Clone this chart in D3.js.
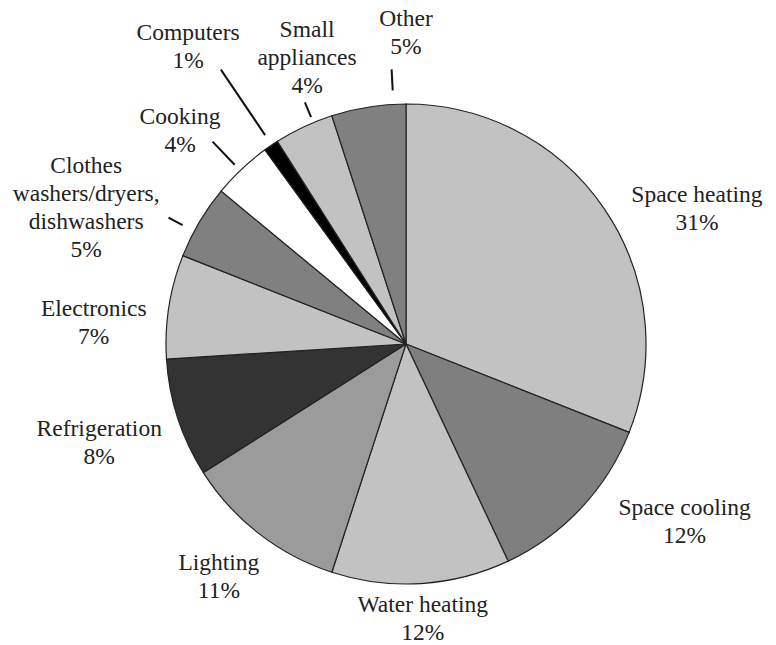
<!DOCTYPE html>
<html>
<head>
<meta charset="utf-8">
<script src="https://cdn.jsdelivr.net/npm/d3@7"></script>
<style>
  body { margin: 0; background: #fff; }
</style>
</head>
<body>
<div id="chart"></div>
<script>
// end-use shares, clockwise from 12 o'clock
var categories = ["Space heating", "Space cooling", "Water heating", "Lighting",
  "Refrigeration", "Electronics", "Clothes washers/dryers, dishwashers",
  "Cooking", "Computers", "Small appliances", "Other"];
var shares = [31, 12, 12, 11, 8, 7, 5, 4, 1, 4, 5];
var labelLines = [["Space heating"], ["Space cooling"], ["Water heating"], ["Lighting"],
  ["Refrigeration"], ["Electronics"], ["Clothes", "washers/dryers,", "dishwashers"],
  ["Cooking"], ["Computers"], ["Small", "appliances"], ["Other"]];
var fills = ["#c2c2c2", "#7f7f7f", "#c2c2c2", "#9b9b9b", "#333333", "#c2c2c2",
  "#808080", "#ffffff", "#000000", "#c2c2c2", "#808080"];

// label placement: [radius, angle in degrees from top]
var labelPos = [[321, 65], [330, 122.4], [275, 176.5], [298, 218.9], [322, 252.3],
  [313, 274], [348, 293.2], [311, 313.4], [369, 323.8], [304, 341], [312, 360]];
// leader lines: [angle, inner r, outer r] or null
var leaders = [null, null, null, null, null, null, [298, 253, 269], [316.3, 248, 280],
  [326, 252, 331], [337.3, 246, 262], [357, 254, 275]];

var width = 776, height = 645,
    cx = 406, cy = 344, radius = 240, lineH = 28;

var svg = d3.select("#chart").append("svg")
    .attr("width", width)
    .attr("height", height);

var g = svg.append("g")
    .attr("transform", "translate(" + cx + "," + cy + ")");

var pie = d3.pie().sort(null).value(function(d) { return d; });
var arc = d3.arc().innerRadius(0).outerRadius(radius);
var arcs = pie(shares);

g.selectAll("path.slice")
    .data(arcs)
  .enter().append("path")
    .attr("class", "slice")
    .attr("d", arc)
    .style("fill", function(d, i) { return fills[i]; })
    .style("stroke", "#222")
    .style("stroke-width", 1.2);

var rad = function(deg) { return deg * Math.PI / 180; };

leaders.forEach(function(l) {
  if (!l) return;
  var a = rad(l[0]);
  g.append("line")
    .attr("x1", Math.sin(a) * l[1]).attr("y1", -Math.cos(a) * l[1])
    .attr("x2", Math.sin(a) * l[2]).attr("y2", -Math.cos(a) * l[2])
    .style("stroke", "#111")
    .style("stroke-width", 2);
});

arcs.forEach(function(d, i) {
  var lines = labelLines[i].concat([shares[i] + "%"]);
  var a = rad(labelPos[i][1]), r = labelPos[i][0];
  var x = Math.sin(a) * r, y = -Math.cos(a) * r;
  var y0 = y - (lines.length - 1) * lineH / 2 + 8;
  var t = g.append("text")
    .attr("text-anchor", "middle")
    .attr("font-family", "'Liberation Serif'")
    .attr("font-size", 23.5)
    .attr("fill", "#222");
  lines.forEach(function(s, k) {
    t.append("tspan").attr("x", x).attr("y", y0 + k * lineH).text(s);
  });
});
</script>
</body>
</html>
